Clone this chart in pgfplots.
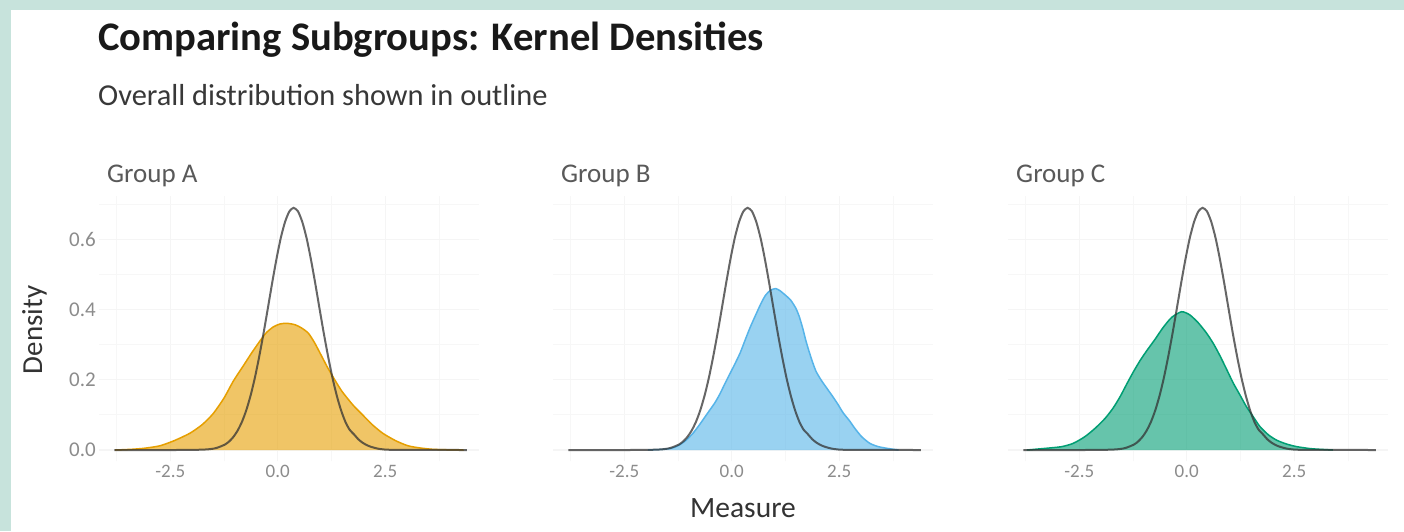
\documentclass[border=0pt]{standalone}
\usepackage{fontspec}
\setmainfont{Carlito}
\usepackage{pgfplots}
\usepackage{pgfplotstable}
\pgfplotsset{compat=1.18}

\definecolor{frameteal}{HTML}{C7E3DC}
\definecolor{grpA}{HTML}{E69F00}
\definecolor{grpB}{HTML}{56B4E9}
\definecolor{grpC}{HTML}{009E73}

\pgfplotstableread{
x y
-3.80 0.000
-2.50 0.000
-2.00 0.0002
-1.63 0.0018
-1.43 0.0056
-1.23 0.0154
-1.13 0.0244
-1.03 0.0375
-0.93 0.056
-0.83 0.081
-0.73 0.114
-0.63 0.156
-0.53 0.207
-0.43 0.267
-0.33 0.333
-0.23 0.404
-0.13 0.476
-0.03 0.544
0.07 0.604
0.17 0.650
0.27 0.680
0.37 0.690
0.47 0.680
0.57 0.650
0.67 0.604
0.77 0.544
0.87 0.476
0.97 0.404
1.07 0.333
1.17 0.267
1.27 0.207
1.37 0.156
1.47 0.114
1.57 0.081
1.67 0.058
1.77 0.045
1.87 0.031
1.97 0.021
2.07 0.014
2.17 0.009
2.37 0.003
2.70 0.0004
4.40 0.000
}\overall

\pgfplotstableread{
x y
-3.78 0.000
-3.40 0.002
-3.10 0.005
-2.74 0.012
-2.40 0.027
-2.04 0.048
-1.75 0.073
-1.50 0.104
-1.25 0.148
-1.03 0.197
-0.80 0.240
-0.61 0.276
-0.40 0.313
-0.26 0.335
-0.10 0.351
0.05 0.359
0.21 0.361
0.40 0.357
0.55 0.348
0.71 0.333
0.85 0.307
0.98 0.277
1.15 0.237
1.33 0.199
1.50 0.166
1.75 0.128
1.95 0.103
2.20 0.072
2.45 0.047
2.75 0.026
3.03 0.012
3.30 0.006
3.60 0.002
4.00 0.0005
4.32 0.000
}\groupA

\pgfplotstableread{
x y
-1.95 0.000
-1.61 0.002
-1.37 0.006
-1.22 0.014
-1.06 0.028
-0.90 0.048
-0.75 0.072
-0.63 0.093
-0.51 0.114
-0.39 0.135
-0.27 0.161
-0.16 0.189
-0.04 0.218
0.08 0.247
0.20 0.278
0.31 0.313
0.43 0.350
0.55 0.383
0.67 0.415
0.78 0.440
0.90 0.455
1.02 0.460
1.12 0.454
1.23 0.443
1.37 0.427
1.49 0.404
1.57 0.380
1.65 0.347
1.72 0.313
1.80 0.280
1.88 0.250
1.96 0.224
2.08 0.199
2.20 0.178
2.35 0.152
2.47 0.130
2.59 0.106
2.74 0.083
2.86 0.062
3.02 0.038
3.21 0.019
3.41 0.0095
3.65 0.004
3.88 0.000
}\groupB

\pgfplotstableread{
x y
-3.72 0.000
-3.26 0.005
-2.91 0.0095
-2.64 0.019
-2.37 0.038
-2.13 0.062
-1.90 0.090
-1.71 0.120
-1.55 0.152
-1.40 0.187
-1.24 0.223
-1.09 0.254
-0.93 0.283
-0.74 0.315
-0.55 0.349
-0.35 0.378
-0.12 0.394
0.07 0.385
0.27 0.362
0.46 0.333
0.62 0.303
0.77 0.269
0.93 0.229
1.08 0.191
1.24 0.156
1.39 0.123
1.55 0.094
1.70 0.067
1.90 0.043
2.09 0.028
2.32 0.017
2.56 0.0095
2.87 0.004
3.10 0.002
3.40 0.000
}\groupC

\pgfplotsset{
  panel/.style={
    scale only axis, width=380pt, height=265.7pt, anchor=south west,
    xmin=-4.15, xmax=4.687, ymin=-0.0325, ymax=0.7245,
    axis line style={draw=none},
    major tick length=0pt, minor tick length=0pt,
    xtick={-2.5,0,2.5}, xticklabels={-2.5,0.0,2.5},
    minor xtick={-3.75,-1.25,1.25,3.75},
    ytick={0,0.2,0.4,0.6},
    minor ytick={0.1,0.3,0.5,0.7},
    grid=both,
    major grid style={draw=black!4, line width=1.3pt},
    minor grid style={draw=black!3, line width=1pt},
    xticklabel style={font=\fontsize{19}{22}\selectfont, text=black!45},
    yticklabel style={font=\fontsize{21}{24}\selectfont, text=black!45},
  },
  outl/.style={draw=black!80, draw opacity=0.75, line width=2pt, no markers, smooth, tension=0.4},
  fillst/.style={draw=none, fill=#1, fill opacity=0.6, no markers, smooth, tension=0.4},
  linest/.style={draw=#1, line width=1.5pt, no markers, smooth, tension=0.4},
}

\begin{document}
\begin{tikzpicture}
\fill[frameteal] (0pt,0pt) rectangle (1404pt,-531pt);
\fill[white] (11pt,-10pt) rectangle (1404pt,-531pt);
\useasboundingbox (0pt,0pt) rectangle (1404pt,-531pt);

\node[anchor=base west, inner sep=0pt, text=black!90, font=\fontsize{40.6}{46}\selectfont\bfseries] at (98pt,-50pt) {Comparing Subgroups: Kernel Densities};
\node[anchor=base west, inner sep=0pt, text=black!78, font=\fontsize{30.4}{36}\selectfont] at (98pt,-105pt) {Overall distribution shown in outline};

\node[anchor=base west, inner sep=0pt, text=black!65, font=\fontsize{27}{32}\selectfont] at (107pt,-182pt) {Group A};
\node[anchor=base west, inner sep=0pt, text=black!65, font=\fontsize{27}{32}\selectfont] at (561pt,-182pt) {Group B};
\node[anchor=base west, inner sep=0pt, text=black!65, font=\fontsize{27}{32}\selectfont] at (1016pt,-182pt) {Group C};

\node[rotate=90, anchor=base, inner sep=0pt, text=black!80, font=\fontsize{29}{34}\selectfont] at (42pt,-330pt) {Density};
\node[anchor=base, inner sep=0pt, text=black!80, font=\fontsize{29.5}{34}\selectfont] at (743pt,-517pt) {Measure};

\begin{axis}[panel, at={(99.3pt,-461.4pt)}, yticklabels={0.0,0.2,0.4,0.6}]
\addplot[fillst=grpA] table {\groupA};
\addplot[linest=grpA] table {\groupA};
\addplot[outl] table {\overall};
\end{axis}

\begin{axis}[panel, at={(553.3pt,-461.4pt)}, yticklabels={}]
\addplot[fillst=grpB] table {\groupB};
\addplot[linest=grpB] table {\groupB};
\addplot[outl] table {\overall};
\end{axis}

\begin{axis}[panel, at={(1008.3pt,-461.4pt)}, yticklabels={}]
\addplot[fillst=grpC] table {\groupC};
\addplot[linest=grpC] table {\groupC};
\addplot[outl] table {\overall};
\end{axis}
\end{tikzpicture}
\end{document}
